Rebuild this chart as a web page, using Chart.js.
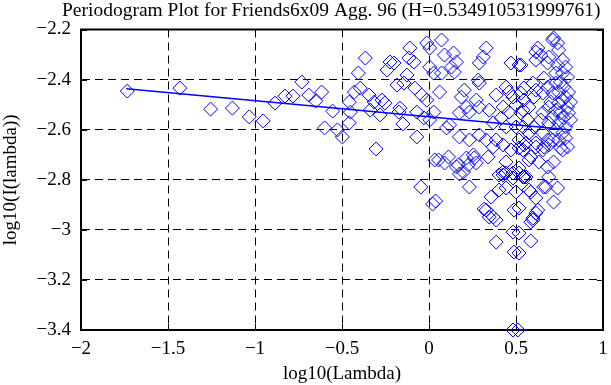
<!DOCTYPE html>
<html>
<head>
<meta charset="utf-8">
<script src="https://cdn.jsdelivr.net/npm/chart.js@4"></script>
<style>
  html, body { margin: 0; padding: 0; background: #fff; }
  #wrap { width: 611px; height: 385px; }
</style>
</head>
<body>
<div id="wrap"><canvas id="grafico" width="611" height="385"></canvas></div>
<script>
// periodogram points: log10(Lambda) vs log10(I(lambda))
const logLambda = [
  -1.734, -1.432, -1.255, -1.130, -1.033, -0.953, -0.885, -0.828, -0.782, -0.731,
  -0.691, -0.651, -0.617, -0.600, -0.554, -0.366, -0.406, -0.429, -0.395, -0.344,
  -0.315, -0.338, -0.270, -0.253, -0.281, -0.224, -0.201, -0.241, -0.127, -0.144,
  -0.184, -0.110, -0.116, -0.087, -0.013, 0.004, -0.081, -0.042, -0.013, -0.070,
  -0.030, -0.167, -0.173, -0.150, -0.526, -0.498, -0.458, -0.458, -0.452, -0.070,
  -0.304, 0.033, -0.047, 0.038, 0.021, 0.072, 0.089, 0.141, 0.158, 0.129,
  0.027, 0.072, 0.146, 0.004, 0.329, 0.312, 0.289, 0.471, 0.517, 0.283,
  0.289, 0.443, 0.460, 0.061, 0.203, 0.186, 0.272, 0.215, 0.289, 0.175,
  0.232, 0.027, 0.004, 0.118, 0.101, 0.346, 0.426, 0.460, 0.500, 0.483,
  0.528, 0.369, 0.443, 0.500, 0.175, 0.232, 0.289, 0.329, 0.386, 0.369,
  0.426, 0.471, 0.517, 0.055, 0.112, 0.089, 0.158, 0.215, 0.255, 0.226,
  0.272, 0.340, 0.426, 0.483, 0.517, 0.443, 0.169, 0.198, 0.260, 0.232,
  0.357, 0.329, 0.369, 0.386, 0.403, 0.443, 0.483, 0.500, 0.489, 0.483,
  0.386, 0.489, 0.483, 0.511, 0.540, 0.443, 0.403, 0.175, 0.585, 0.597,
  0.614, 0.585, 0.659, 0.739, 0.716, 0.426, 0.317, 0.346, 0.711, 0.739,
  0.745, 0.625, 0.642, 0.614, 0.528, 0.688, 0.682, 0.739, 0.768, 0.785,
  0.728, 0.768, 0.796, 0.756, 0.773, 0.802, 0.785, 0.768, 0.813, 0.796,
  0.802, 0.773, 0.813, 0.785, 0.768, 0.745, 0.785, 0.728, 0.688, 0.711,
  0.728, 0.688, 0.654, 0.642, 0.603, 0.574, 0.654, 0.682, 0.614, 0.546,
  0.517, 0.540, 0.528, 0.574, 0.546, 0.603, 0.546, 0.597, 0.660, 0.682,
  0.711, 0.654, 0.614, 0.728, 0.700, 0.745, 0.745, 0.756, 0.745, 0.711,
  0.660, 0.796, 0.756, 0.557, 0.614, 0.654, 0.688, 0.768, 0.716, 0.682,
  0.631, 0.585, 0.540, 0.517, 0.546, 0.574, 0.614, 0.671, 0.517, 0.625,
  0.597, 0.585, 0.517, 0.517, 0.716, 0.614, 0.557, 0.574, 0.688, 0.386,
  0.415, 0.540, 0.568
];
const logPeriod = [
  -2.446, -2.434, -2.518, -2.514, -2.549, -2.565, -2.494, -2.466, -2.466, -2.410,
  -2.462, -2.486, -2.450, -2.593, -2.526, -2.314, -2.374, -2.450, -2.434, -2.462,
  -2.490, -2.522, -2.482, -2.494, -2.541, -2.330, -2.334, -2.362, -2.382, -2.414,
  -2.422, -2.274, -2.314, -2.330, -2.254, -2.350, -2.434, -2.462, -2.482, -2.530,
  -2.553, -2.514, -2.530, -2.577, -2.601, -2.629, -2.573, -2.490, -2.530, -2.629,
  -2.677, -2.721, -2.829, -2.885, -2.897, -2.242, -2.302, -2.294, -2.330, -2.350,
  -2.374, -2.374, -2.370, -2.274, -2.274, -2.310, -2.334, -2.334, -2.342, -2.402,
  -2.414, -2.430, -2.450, -2.450, -2.442, -2.470, -2.482, -2.510, -2.510, -2.533,
  -2.530, -2.530, -2.561, -2.581, -2.593, -2.522, -2.510, -2.530, -2.502, -2.470,
  -2.454, -2.573, -2.589, -2.589, -2.629, -2.641, -2.621, -2.641, -2.641, -2.669,
  -2.661, -2.681, -2.673, -2.721, -2.709, -2.733, -2.749, -2.713, -2.701, -2.741,
  -2.733, -2.709, -2.769, -2.773, -2.753, -2.729, -2.741, -2.769, -2.713, -2.829,
  -2.869, -2.921, -2.949, -2.961, -2.781, -2.773, -2.793, -2.849, -2.921, -3.009,
  -3.049, -3.089, -3.400, -3.400, -2.789, -2.833, -2.841, -2.777, -3.045, -2.961,
  -2.933, -2.849, -2.829, -2.833, -2.889, -2.781, -2.917, -2.949, -2.242, -2.254,
  -2.282, -2.274, -2.302, -2.322, -2.342, -2.310, -2.334, -2.342, -2.322, -2.350,
  -2.374, -2.374, -2.390, -2.410, -2.430, -2.450, -2.470, -2.482, -2.490, -2.510,
  -2.533, -2.553, -2.561, -2.589, -2.613, -2.641, -2.633, -2.601, -2.573, -2.549,
  -2.522, -2.510, -2.533, -2.561, -2.589, -2.613, -2.613, -2.641, -2.653, -2.661,
  -2.641, -2.589, -2.533, -2.510, -2.482, -2.470, -2.434, -2.414, -2.394, -2.430,
  -2.454, -2.454, -2.442, -2.414, -2.490, -2.450, -2.494, -2.533, -2.573, -2.641,
  -2.669, -2.669, -2.673, -2.653, -2.669, -2.681, -2.661, -2.681, -2.729, -2.749,
  -2.729, -2.709, -2.681, -2.773, -2.789, -2.841, -2.873, -2.829, -2.913, -2.921,
  -2.953, -2.969, -3.013, -3.093, -2.234, -2.290, -2.789, -2.721, -2.789, -2.462,
  -2.553, -2.522, -2.561
];

// fitted line (two ends)
const fitX = [-1.74, 0.82];
const fitY = [-2.437, -2.601];

const xTicks = [-2, -1.5, -1, -0.5, 0, 0.5, 1];
const yTicks = [-3.4, -3.2, -3, -2.8, -2.6, -2.4, -2.2];

const titulo = "Periodogram Plot for Friends6x09 Agg. 96 (H=0.534910531999761)";
const fonte = "'Liberation Serif', 'Times New Roman', serif";
const tamanho = 19;

const pontos = logLambda.map((x, i) => ({ x: x, y: logPeriod[i] }));
const linha = fitX.map((x, i) => ({ x: x, y: fitY[i] }));

function fmt(v) {
  return String(parseFloat(v.toFixed(2))).replace('-', '\u2212');
}

function semPadding(s) {
  s.paddingLeft = 0;
  s.paddingRight = 0;
  s.paddingTop = 0;
  s.paddingBottom = 0;
}

// frame, inward ticks and title
const moldura = {
  id: 'moldura',
  beforeDatasetsDraw(chart) {
    const ctx = chart.ctx;
    const a = chart.chartArea;
    const sx = chart.scales.x, sy = chart.scales.y;
    ctx.save();
    ctx.strokeStyle = '#000';
    ctx.lineWidth = 1;
    ctx.setLineDash([]);
    ctx.beginPath();
    xTicks.forEach(v => {
      const px = Math.round(sx.getPixelForValue(v)) + 0.5;
      ctx.moveTo(px, a.top); ctx.lineTo(px, a.top + 6);
      ctx.moveTo(px, a.bottom); ctx.lineTo(px, a.bottom - 6);
    });
    yTicks.forEach(v => {
      const py = Math.round(sy.getPixelForValue(v)) + 0.5;
      ctx.moveTo(a.left, py); ctx.lineTo(a.left + 6, py);
      ctx.moveTo(a.right, py); ctx.lineTo(a.right - 6, py);
    });
    ctx.stroke();
    ctx.lineWidth = 2;
    ctx.strokeRect(a.left, a.top, a.right - a.left, a.bottom - a.top);
    ctx.restore();
  },
  afterDraw(chart) {
    const ctx = chart.ctx;
    ctx.save();
    ctx.fillStyle = '#000';
    ctx.font = "19.5px " + fonte;
    ctx.textAlign = 'left';
    ctx.textBaseline = 'alphabetic';
    ctx.fillText(titulo, 62, 16);
    ctx.restore();
  }
};

const ctx = document.getElementById('grafico').getContext('2d');
new Chart(ctx, {
  type: 'scatter',
  data: {
    datasets: [
      {
        label: 'periodogram',
        data: pontos,
        pointStyle: 'rectRot',
        pointRadius: 7,
        pointBorderWidth: 1,
        borderColor: '#0000ff',
        backgroundColor: 'rgba(0,0,0,0)',
        clip: false
      },
      {
        label: 'fit',
        data: linha,
        showLine: true,
        pointRadius: 0,
        borderColor: '#0000ff',
        borderWidth: 1.5,
        fill: false
      }
    ]
  },
  options: {
    responsive: false,
    animation: false,
    layout: { padding: { top: 29.5, right: 3.5, left: 0, bottom: 0 } },
    plugins: {
      legend: { display: false },
      tooltip: { enabled: false },
      title: { display: false }
    },
    scales: {
      x: {
        type: 'linear',
        min: -2,
        max: 1,
        afterBuildTicks: s => { s.ticks = xTicks.map(v => ({ value: v })); },
        afterFit: s => { s.height = 55; semPadding(s); },
        grid: { color: '#000', lineWidth: 1, drawTicks: false },
        border: { display: true, color: '#000', width: 2, dash: [8, 5] },
        ticks: {
          color: '#000',
          padding: 8,
          maxRotation: 0,
          font: { family: fonte, size: tamanho },
          callback: v => fmt(v)
        },
        title: {
          display: true,
          text: 'log10(Lambda)',
          color: '#000',
          padding: 0,
          font: { family: fonte, size: tamanho }
        }
      },
      y: {
        type: 'linear',
        min: -3.4,
        max: -2.2,
        afterBuildTicks: s => { s.ticks = yTicks.map(v => ({ value: v })); },
        afterFit: s => { s.width = 81; semPadding(s); },
        grid: { color: '#000', lineWidth: 1, drawTicks: false },
        border: { display: true, color: '#000', width: 2, dash: [8, 5] },
        ticks: {
          color: '#000',
          padding: 10,
          font: { family: fonte, size: tamanho },
          callback: v => fmt(v)
        },
        title: {
          display: true,
          text: 'log10(I(lambda))',
          color: '#000',
          padding: 0,
          font: { family: fonte, size: tamanho }
        }
      }
    }
  },
  plugins: [moldura]
});
</script>
</body>
</html>
